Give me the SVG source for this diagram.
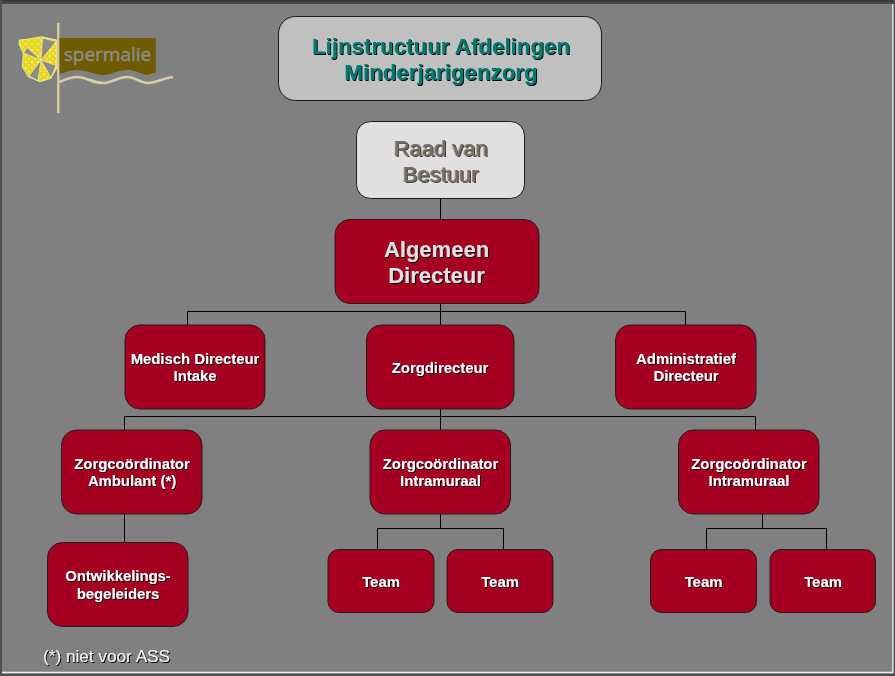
<svg xmlns="http://www.w3.org/2000/svg" width="895" height="676" viewBox="0 0 895 676">
<defs>
<filter id="sd" x="-10%" y="-20%" width="120%" height="140%"><feDropShadow dx="1" dy="1" stdDeviation="0.35" flood-color="#000" flood-opacity="1"/></filter>
<filter id="sb" x="-10%" y="-20%" width="120%" height="140%">
<feOffset in="SourceAlpha" dx="-0.8" dy="0.3" result="o1"/><feFlood flood-color="#b08a5a"/><feComposite in2="o1" operator="in" result="s1"/>
<feOffset in="SourceAlpha" dx="0.7" dy="0.7" result="o2"/><feFlood flood-color="#444"/><feComposite in2="o2" operator="in" result="s2"/>
<feMerge><feMergeNode in="s1"/><feMergeNode in="s2"/><feMergeNode in="SourceGraphic"/></feMerge>
</filter>
<pattern id="dots" width="6" height="6" patternUnits="userSpaceOnUse"><circle cx="2" cy="2" r="0.9" fill="#f6f2b0"/><circle cx="5" cy="5" r="0.7" fill="#f6f2b0"/></pattern>
</defs>
<style>
text{font-family:"Liberation Sans",Arial,sans-serif;text-anchor:middle}
.b{fill:#a50021;stroke:#2a1a1e;stroke-width:1}
.c{fill:none;stroke:#000;stroke-width:1}
.t{font-size:14.85px;font-weight:700;fill:#fff;filter:url(#sd)}
</style>
<rect width="895" height="676" fill="#808080"/>
<rect x="0" y="0" width="895" height="4" fill="#484848"/>
<rect x="0" y="0" width="895" height="1.500" fill="#383838"/>
<rect x="0" y="0" width="2" height="676" fill="#505050"/>
<rect x="893.500" y="0" width="1.500" height="676" fill="#505050"/>
<rect x="0" y="673.500" width="895" height="2.500" fill="#505050"/>
<path d="M2 672.500H892.800V4" fill="none" stroke="#f0f0f0" stroke-width="1.300"/>
<g id="logo">
<path d="M19.300 40L28 39L41.700 36.700L56.700 40V68L51 78.300L40 81.700L28.300 76.700L22.300 66.700L23.300 53.300L19.300 45Z" fill="#e8d820" stroke="#f2ee90" stroke-width="0.9"/>
<path d="M19.300 40L28 39L41.700 36.700L56.700 40V68L51 78.300L40 81.700L28.300 76.700L22.300 66.700L23.300 53.300L19.300 45Z" fill="url(#dots)"/>
<path d="M41 60L42.500 38L56 41.500ZM41 60L56 65.500L51 77.500ZM41 60L38 80.800L29 76ZM41 60L23.800 53L27 47.500Z" fill="#8c8c84" stroke="#f4efa0" stroke-width="0.7"/>
<rect x="57" y="23" width="2.500" height="90" fill="#d8c99a"/>
<path d="M59.500 38H155.700V72.700L147 75C140 74 136 70 128 70C118 70 111 75 102 75C92 74 86 70 77 70C70 70 64 73 59.500 74Z" fill="#6f5b00"/>
<text x="107.500" y="61" style="font-family:'Open Sans','Liberation Sans',sans-serif;font-size:19px;fill:#8e8e8e;stroke:#8e8e8e;stroke-width:0.4">spermalie</text>
<path d="M59.500 82C66 79 71 77 77 77C86 77 93 83 103 83C112 83 118 77 127 77C135 77 140 83 148 83C156 83 164 78 173 77" fill="none" stroke="#d8cba8" stroke-width="2.700"/>
</g>
<g id="connectors">
<path class="c" d="M440.500 198V219M440.500 304V325M187.500 325V311.500H685.500V325M440.500 409V430M124.500 430V416.500H755.500V430M124.500 514V543M440.500 514V528.500M377.500 549V528.500H503.500V549M762.500 514V528.500M706.500 549V528.500H826.500V549"/>
</g>
<g id="title"><rect x="278.500" y="16.500" width="323" height="84" rx="17" fill="#c0c0c0" stroke="#1a1a1a"/>
<g style="font-size:22.300px;font-weight:700;fill:#007a70;filter:url(#sd)"><text x="441" y="53.500">Lijnstructuur Afdelingen</text><text x="441" y="80">Minderjarigenzorg</text></g></g>
<g id="raad"><rect x="356.500" y="121.500" width="168" height="77" rx="14" fill="#e0e0e0" stroke="#1a1a1a"/>
<g style="font-size:22px;fill:#707070;filter:url(#sb)"><text x="441" y="155.500">Raad van</text><text x="441" y="182">Bestuur</text></g></g>
<g id="algemeen"><rect class="b" x="335" y="219.500" width="204" height="84" rx="15"/>
<g style="font-size:22px;font-weight:700;fill:#e0e0e0;filter:url(#sd)"><text x="436.500" y="257">Algemeen</text><text x="436.500" y="283">Directeur</text></g></g>
<g id="medisch"><rect class="b" x="125" y="325" width="140" height="84" rx="15"/>
<text class="t" x="195" y="364">Medisch Directeur</text><text class="t" x="195" y="381">Intake</text></g>
<g id="zorgdirecteur"><rect class="b" x="366.500" y="325" width="147.500" height="84" rx="15"/>
<text class="t" x="440" y="372.500">Zorgdirecteur</text></g>
<g id="admin"><rect class="b" x="615.500" y="325" width="140.500" height="84" rx="15"/>
<text class="t" x="686" y="364">Administratief</text><text class="t" x="686" y="381">Directeur</text></g>
<g id="zc1"><rect class="b" x="61.500" y="430" width="140.500" height="84" rx="15"/>
<text class="t" x="132" y="469">Zorgcoördinator</text><text class="t" x="132" y="486">Ambulant (*)</text></g>
<g id="zc2"><rect class="b" x="370" y="430" width="140.500" height="84" rx="15"/>
<text class="t" x="440.500" y="469">Zorgcoördinator</text><text class="t" x="440.500" y="486">Intramuraal</text></g>
<g id="zc3"><rect class="b" x="678.500" y="430" width="140.500" height="84" rx="15"/>
<text class="t" x="749" y="469">Zorgcoördinator</text><text class="t" x="749" y="486">Intramuraal</text></g>
<g id="ontw"><rect class="b" x="47.500" y="542.500" width="140.500" height="84" rx="15"/>
<text class="t" x="118" y="581">Ontwikkelings-</text><text class="t" x="118" y="599">begeleiders</text></g>
<g id="team1"><rect class="b" x="328" y="549.500" width="106" height="63" rx="11"/><text class="t" x="381" y="587">Team</text></g>
<g id="team2"><rect class="b" x="447" y="549.500" width="106" height="63" rx="11"/><text class="t" x="500" y="587">Team</text></g>
<g id="team3"><rect class="b" x="650.500" y="549.500" width="106" height="63" rx="11"/><text class="t" x="703.500" y="587">Team</text></g>
<g id="team4"><rect class="b" x="770" y="549.500" width="105.500" height="63" rx="11"/><text class="t" x="823" y="587">Team</text></g>
<text x="106.500" y="662" style="font-size:17.200px;fill:#f2f2f2;filter:url(#sd)">(*) niet voor ASS</text>
</svg>
